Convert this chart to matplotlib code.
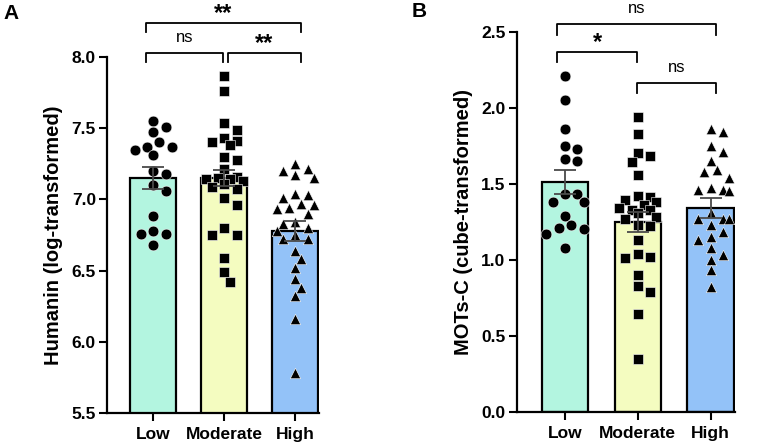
import matplotlib
matplotlib.use("Agg")
import matplotlib.pyplot as plt
import numpy as np

# groups
groups = ["Low", "Moderate", "High"]
bar_colors = ["#b3f5e0", "#f4fcc0", "#93c2f8"]
markers = ["o", "s", "^"]
marker_sizes = [60, 46, 56]

# panel A - Humanin (log-transformed)
humanin_low = [7.55, 7.51, 7.47, 7.40, 7.37, 7.37, 7.35, 7.31, 7.20, 7.18,
               7.10, 7.06, 6.88, 6.78, 6.76, 6.76, 6.68]
humanin_moderate = [7.87, 7.76, 7.54, 7.49, 7.43, 7.41, 7.40, 7.38, 7.30, 7.28,
                    7.21, 7.16, 7.15, 7.14, 7.14, 7.13, 7.11, 7.09, 7.07, 7.01,
                    6.96, 6.80, 6.75, 6.75, 6.59, 6.49, 6.42]
humanin_high = [7.25, 7.21, 7.20, 7.17, 7.15, 7.03, 7.04, 7.01, 6.97, 6.96,
                6.94, 6.93, 6.90, 6.83, 6.84, 6.80, 6.78, 6.75, 6.72, 6.72,
                6.64, 6.58, 6.52, 6.44, 6.38, 6.32, 6.16, 5.78]
humanin_mean = [7.15, 7.15, 6.78]
humanin_sem = [0.075, 0.055, 0.07]

# panel B - MOTs-C (cube-transformed)
motsc_low = [2.21, 2.05, 1.86, 1.75, 1.73, 1.65, 1.66, 1.43, 1.43, 1.38,
             1.38, 1.29, 1.23, 1.21, 1.20, 1.17, 1.08]
motsc_moderate = [1.94, 1.83, 1.70, 1.68, 1.64, 1.56, 1.41, 1.42, 1.38, 1.39,
                  1.36, 1.34, 1.33, 1.33, 1.31, 1.28, 1.27, 1.23, 1.22, 1.13,
                  1.04, 1.02, 1.01, 0.90, 0.83, 0.79, 0.64, 0.35]
motsc_high = [1.86, 1.84, 1.75, 1.71, 1.65, 1.58, 1.59, 1.54, 1.46, 1.45,
              1.46, 1.47, 1.31, 1.27, 1.27, 1.27, 1.23, 1.18, 1.15, 1.13,
              1.08, 1.03, 1.00, 0.93, 0.82]
motsc_mean = [1.51, 1.25, 1.34]
motsc_sem = [0.077, 0.065, 0.066]

# comparisons: (group i, group j, label, bracket height, leg bottom)
humanin_comp = [(0, 2, "**", 8.24, 8.177), (0, 1, "ns", 8.03, 7.967), (1, 2, "**", 8.03, 7.967)]
motsc_comp = [(0, 2, "ns", 2.55, 2.478), (0, 1, "*", 2.368, 2.303), (1, 2, "ns", 2.161, 2.095)]

tick_font = dict(family="Liberation Sans", weight="bold", size=12.5)
label_font = dict(family="Liberation Sans", weight="bold", size=14.5)

fig = plt.figure(figsize=(7.64, 4.45), dpi=100)


def swarm_x(ax, xc, vals, d, step, kmax=3):
    pts = ax.transData.transform(np.column_stack([np.full(len(vals), xc), vals]))
    order = np.argsort(vals)[::-1]
    placed = []
    xs = np.zeros(len(vals))
    offs = [0] + [s * k for k in range(1, kmax + 1) for s in (1, -1)]
    for i in order:
        y = pts[i, 1]
        best, best_gap = 0, -1
        for k in offs:
            x = pts[i, 0] + k * step
            gap = min((np.hypot(x - px, y - py) for px, py in placed), default=np.inf)
            if gap >= d:
                best = k
                break
            if gap > best_gap:
                best, best_gap = k, gap
        xs[i] = pts[i, 0] + best * step
        placed.append((xs[i], y))
    return ax.transData.inverted().transform(np.column_stack([xs, pts[:, 1]]))[:, 0]


def panel(rect, xlim, ylim, yticks, width, data, means, sems, ylabel, comps, start_off, end_off):
    ax = fig.add_axes(rect)
    ax.set_xlim(*xlim)
    ax.set_ylim(*ylim)
    x = np.arange(len(groups))
    ax.bar(x, means, width=width, color=bar_colors, edgecolor="black", linewidth=1.6, zorder=1)
    for i, vals in enumerate(data):
        xs = swarm_x(ax, i, vals, d=10.5, step=6.2)
        ax.scatter(xs, vals, s=marker_sizes[i], marker=markers[i], color="black",
                   edgecolors="white", linewidths=0.4, zorder=3, clip_on=False)
    ax.errorbar(x, means, yerr=sems, fmt="none", ecolor="#4a4a4a", elinewidth=1.3,
                capsize=8, capthick=1.3, zorder=4)
    for s in ["top", "right"]:
        ax.spines[s].set_visible(False)
    for s in ["left", "bottom"]:
        ax.spines[s].set_linewidth(1.6)
    ax.set_yticks(yticks)
    ax.set_yticklabels([f"{t:.1f}" for t in yticks], **tick_font)
    ax.set_xticks(x)
    ax.set_xticklabels(groups, **tick_font)
    ax.tick_params(axis="y", length=6, width=1.5, pad=2)
    ax.tick_params(axis="x", length=6, width=1.5, pad=4)
    ax.set_ylabel(ylabel, labelpad=6, **label_font)
    for i, j, lab, yb, yl in comps:
        x0 = i + start_off[i]
        x1 = j + end_off[j]
        ax.plot([x0, x0, x1, x1], [yl, yb, yb, yl], color="black", lw=1.3, clip_on=False)
        if lab == "ns":
            ax.annotate(lab, ((x0 + x1) / 2, yb), xytext=(0, 8), textcoords="offset points",
                        ha="center", va="baseline", family="Liberation Sans", size=12,
                        annotation_clip=False)
        else:
            ax.annotate(lab, ((x0 + x1) / 2, yb), xytext=(0, 2), textcoords="offset points",
                        ha="center", va="baseline", family="Liberation Sans", weight="bold",
                        size=17, annotation_clip=False)
    return ax


axA = panel([107 / 764, 1 - 413 / 445, (319 - 107) / 764, (413 - 57) / 445],
            (-0.652, 2.335), (5.5, 8.0), np.arange(5.5, 8.01, 0.5), 0.65,
            [humanin_low, humanin_moderate, humanin_high], humanin_mean, humanin_sem,
            "Humanin (log-transformed)", humanin_comp,
            [-0.1, 0.05, 0.0], [0.0, -0.02, 0.08])

axB = panel([516.7 / 764, 1 - 411.7 / 445, (735 - 516.7) / 764, (411.7 - 31.7) / 445],
            (-0.665, 2.335), (0.0, 2.5), np.arange(0.0, 2.51, 0.5), 0.64,
            [motsc_low, motsc_moderate, motsc_high], motsc_mean, motsc_sem,
            "MOTs-C (cube-transformed)", motsc_comp,
            [-0.11, -0.01, 0.0], [0.0, -0.01, 0.075])

fig.text(3 / 764, 1 - 4 / 445, "A", family="Liberation Sans", weight="bold", size=15, va="top", ha="left")
fig.text(412 / 764, 1 - 2 / 445, "B", family="Liberation Sans", weight="bold", size=15, va="top", ha="left")

fig.savefig("out.png", dpi=100)
